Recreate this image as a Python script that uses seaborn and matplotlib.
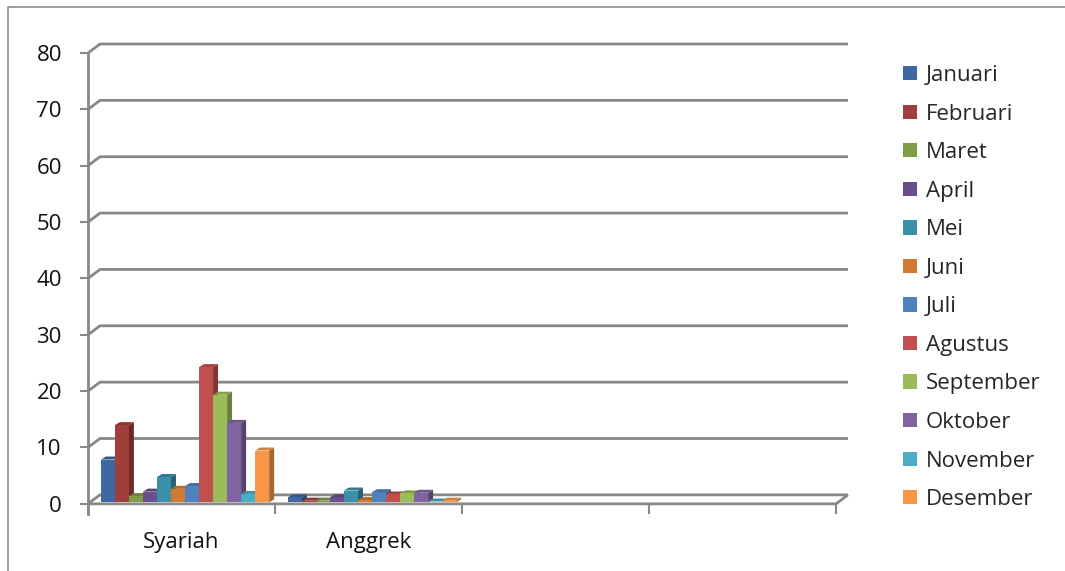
import numpy as np
import pandas as pd
import matplotlib
matplotlib.use("Agg")
import matplotlib.pyplot as plt
from matplotlib.lines import Line2D
from matplotlib.patches import Polygon
from matplotlib.transforms import ScaledTranslation, IdentityTransform
import matplotlib.colors as mcolors
import seaborn as sns

# ---- data -------------------------------------------------------------
units = ["Syariah", "Anggrek"]
n_slots = 4  # category slots on the floor (two left empty)
months = ["Januari", "Februari", "Maret", "April", "Mei", "Juni", "Juli",
          "Agustus", "September", "Oktober", "November", "Desember"]
syariah = [7.6, 13.7, 1.1, 1.9, 4.5, 2.4, 2.9, 24.0, 19.1, 14.1, 1.5, 9.2]
anggrek = [0.9, 0.3, 0.3, 0.9, 2.1, 0.4, 1.8, 1.4, 1.6, 1.7, 0.15, 0.3]
month_colors = ["#3D69A0", "#A03E3C", "#7F9D47", "#684E8C", "#3A90A8", "#D17A32",
                "#4F81BD", "#C0504D", "#9BBB59", "#8064A2", "#4BACC6", "#F79646"]
y_ticks = [0, 10, 20, 30, 40, 50, 60, 70, 80]

df = pd.DataFrame({
    "unit": np.repeat(units, len(months)),
    "month": months * len(units),
    "value": syariah + anggrek,
})

# ---- style ------------------------------------------------------------
sns.set_theme(style="white")
plt.rcParams["font.family"] = ["Open Sans", "DejaVu Sans"]
FS = 16
GRID = "#888888"

W, H = 1065, 571
fig = plt.figure(figsize=(W / 100, H / 100), dpi=100)
# front plane of the plot box (pixel geometry)
left_px, right_px, top_px, bottom_px = 88, 836, 53, 514
ax = fig.add_axes([left_px / W, (H - bottom_px) / H,
                   (right_px - left_px) / W, (bottom_px - top_px) / H])

sns.barplot(data=df, x="unit", y="value", hue="month", order=units,
            hue_order=months, palette=month_colors, saturation=1,
            width=0.9, linewidth=0, ax=ax, legend=False)

ax.set_xlim(-0.5, n_slots - 0.5)
ax.set_ylim(-1.8, 80)
ax.set_xlabel("")
ax.set_ylabel("")

# depth offsets, in pixels (x to the right, y upward)
BACK = np.array([12.0, 9.0])     # back wall relative to front plane
BAR_OFF = np.array([3.5, 1.5])   # bar front faces relative to front plane
BAR_DEPTH = np.array([5.0, 3.0])  # visible depth of each bar


def px(x, y):
    return ax.transData.transform((x, y))


def pline(points, **kw):
    pts = np.array(points)
    ax.add_line(Line2D(pts[:, 0], pts[:, 1], transform=IdentityTransform(),
                       clip_on=False, color=GRID, lw=2.0,
                       solid_capstyle="butt", **kw))


x_lo, x_hi = -0.5, n_slots - 0.5
# back wall gridlines with their slant to the side wall
for v in y_ticks:
    p0 = px(x_lo, v)
    p1 = px(x_hi, v)
    pline([p0, p0 + BACK, p1 + BACK], zorder=0.5)

# floor: front edge and right slant
f0 = px(x_lo, 0)
f1 = px(x_hi, 0)
pline([f0, f1, f1 + BACK], zorder=0.6)

# ---- 3D look for the bars ---------------------------------------------
shift = ScaledTranslation(BAR_OFF[0] / 100, BAR_OFF[1] / 100, fig.dpi_scale_trans)
bars = []
for container in ax.containers:
    for bar in container:
        bars.append(bar)
bars.sort(key=lambda b: b.get_x())

for i, bar in enumerate(bars):
    z = 2 + i * 0.01
    col = np.array(mcolors.to_rgb(bar.get_facecolor()))
    bar.set_transform(ax.transData + shift)
    bar.set_zorder(z + 0.005)
    bar.set_clip_on(False)
    x0, y0 = px(bar.get_x(), 0) + BAR_OFF
    x1, y1 = px(bar.get_x() + bar.get_width(), bar.get_height()) + BAR_OFF
    dx, dy = BAR_DEPTH
    side = Polygon([(x1, y0), (x1, y1), (x1 + dx, y1 + dy), (x1 + dx, y0 + dy)],
                   closed=True, transform=IdentityTransform(), clip_on=False,
                   facecolor=col * 0.68, edgecolor="none", zorder=z)
    top = Polygon([(x0, y1), (x1, y1), (x1 + dx, y1 + dy), (x0 + dx, y1 + dy)],
                  closed=True, transform=IdentityTransform(), clip_on=False,
                  facecolor=col * 0.85, edgecolor="none", zorder=z)
    ax.add_artist(side)
    ax.add_artist(top)

# ---- axes, ticks, labels ---------------------------------------------
for s in ["top", "right", "bottom"]:
    ax.spines[s].set_visible(False)
ax.spines["left"].set_color(GRID)
ax.spines["left"].set_linewidth(2.0)

ax.set_yticks(y_ticks)
ax.set_yticklabels([str(v) for v in y_ticks], fontsize=FS, color="#111111")
ax.tick_params(axis="y", left=True, length=5.8, width=1.5, color=GRID, pad=13)

ax.set_xticks(np.arange(x_lo, x_hi + 0.01, 1.0))
ax.set_xticklabels([])
ax.set_xticks(range(len(units)), minor=True)
ax.set_xticklabels(units, minor=True, fontsize=FS, color="#111111")
ax.tick_params(axis="x", which="major", bottom=True, direction="in",
               length=6.5, width=1.5, color=GRID)
ax.tick_params(axis="x", which="minor", bottom=False, length=0, pad=13)
ax.grid(False)

# ---- legend -----------------------------------------------------------
proxies = [plt.Rectangle((0, 0), 1, 1, facecolor=c, edgecolor="none")
           for c in month_colors]
fig.legend(proxies, months, loc="upper left",
           bbox_to_anchor=(903 / W, 1 - 65 / H), frameon=False,
           fontsize=FS, handlelength=0.62, handleheight=0.62,
           handletextpad=0.4, labelspacing=0.79, borderpad=0,
           borderaxespad=0)

# outer chart border
fig.add_artist(Line2D([8 / W, 8 / W, 1.0], [0.0, 1 - 7 / H, 1 - 7 / H],
                      transform=fig.transFigure, color="#8C8C8C", lw=1.2))

fig.savefig("out.png", dpi=100)
